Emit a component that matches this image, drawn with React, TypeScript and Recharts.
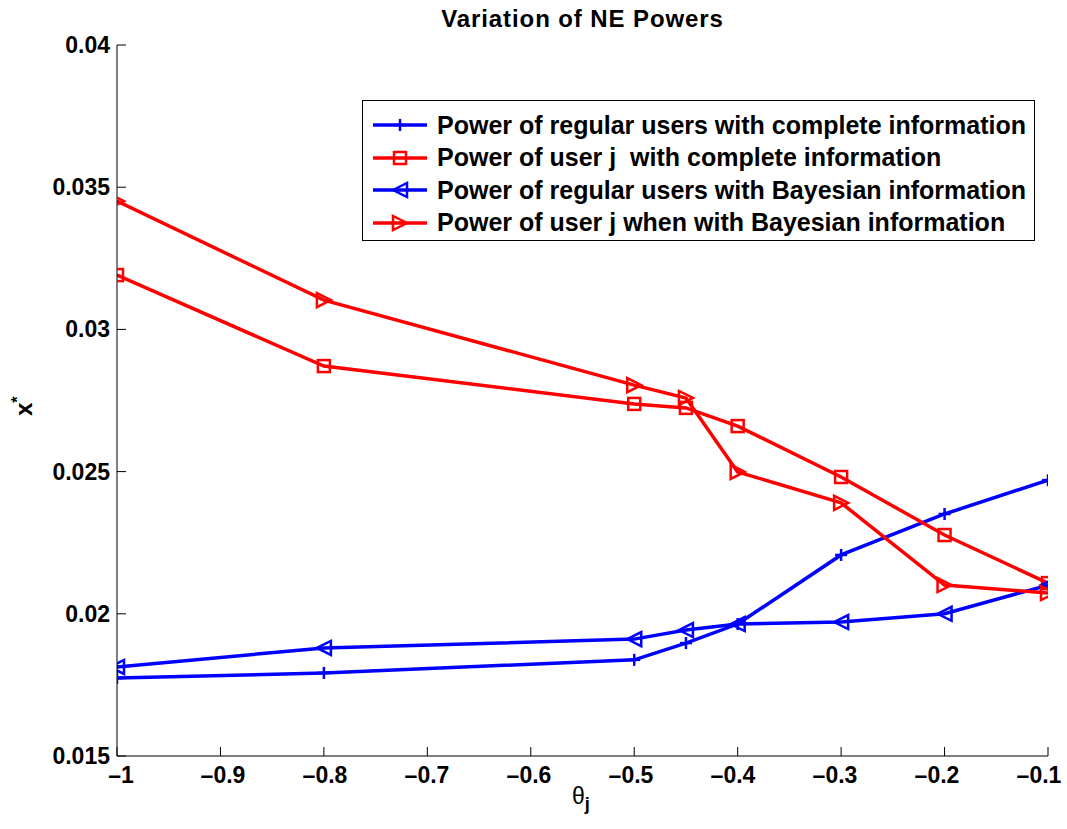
import React from 'react'
import { LineChart, Line, XAxis, YAxis } from 'recharts'

// theta_j values on the x axis
const thetas = [-1, -0.8, -0.5, -0.45, -0.4, -0.3, -0.2, -0.1]

const regularComplete = [0.01774, 0.01792, 0.01838, 0.01897, 0.01964, 0.02207, 0.02351, 0.0247]
const userJComplete = [0.03191, 0.02871, 0.02738, 0.02724, 0.0266, 0.02481, 0.02277, 0.02108]
const regularBayesian = [0.01813, 0.0188, 0.01911, 0.01943, 0.01964, 0.01971, 0.02, 0.02101]
const userJBayesian = [0.03451, 0.03103, 0.02804, 0.02759, 0.02499, 0.0239, 0.02101, 0.02073]

const xTicks = [-1, -0.9, -0.8, -0.7, -0.6, -0.5, -0.4, -0.3, -0.2, -0.1]
const yTicks = [0.015, 0.02, 0.025, 0.03, 0.035, 0.04]

const BLUE = '#0000ff'
const RED = '#ff0000'
const FONT = '"Liberation Sans", Arial, Helvetica, sans-serif'

type Marker = 'plus' | 'square' | 'left' | 'right'

const series: { key: string; name: string; color: string; marker: Marker }[] = [
  { key: 'rc', name: 'Power of regular users with complete information', color: BLUE, marker: 'plus' },
  { key: 'jc', name: 'Power of user j  with complete information', color: RED, marker: 'square' },
  { key: 'rb', name: 'Power of regular users with Bayesian information', color: BLUE, marker: 'left' },
  { key: 'jb', name: 'Power of user j when with Bayesian information', color: RED, marker: 'right' },
]

const data = thetas.map((x, i) => ({
  x,
  rc: regularComplete[i],
  jc: userJComplete[i],
  rb: regularBayesian[i],
  jb: userJBayesian[i],
}))

function markerShape(kind: Marker, cx: number, cy: number, color: string, key?: string | number) {
  const common = { stroke: color, strokeWidth: 2.5, fill: 'none' }
  if (kind === 'plus') {
    return (
      <g key={key}>
        <line x1={cx - 6} y1={cy} x2={cx + 6} y2={cy} {...common} />
        <line x1={cx} y1={cy - 6} x2={cx} y2={cy + 6} {...common} />
      </g>
    )
  }
  if (kind === 'square') {
    return <rect key={key} x={cx - 6} y={cy - 6} width={12} height={12} {...common} />
  }
  if (kind === 'left') {
    return <polygon key={key} points={`${cx - 7},${cy} ${cx + 7},${cy - 7} ${cx + 7},${cy + 7}`} {...common} />
  }
  return <polygon key={key} points={`${cx + 7},${cy} ${cx - 7},${cy - 7} ${cx - 7},${cy + 7}`} {...common} />
}

const fmt = (v: number) => (v < 0 ? '\u2013' + String(Math.abs(v)) : String(v))

const BottomTick = (props: any) => {
  const { x, y, payload, index } = props
  // the labels in the source sit slightly inside of their ticks towards the right end
  const shift = 4 - (13 * (index ?? 0)) / 9
  return (
    <g>
      <line x1={x} y1={y} x2={x} y2={y - 9} stroke="#000" strokeWidth={1} />
      <text x={x + shift} y={y + 27} textAnchor="middle" fontSize={23} fontWeight="bold" fontFamily={FONT} fill="#000">
        {fmt(payload.value)}
      </text>
    </g>
  )
}

const LeftTick = (props: any) => {
  const { x, y, payload } = props
  return (
    <g>
      <line x1={x} y1={y} x2={x + 9} y2={y} stroke="#000" strokeWidth={1} />
      <text x={x - 7} y={y + 8} textAnchor="end" fontSize={23} fontWeight="bold" fontFamily={FONT} fill="#000">
        {String(payload.value)}
      </text>
    </g>
  )
}

const TopTick = (props: any) => {
  const { x, y } = props
  return <line x1={x} y1={y} x2={x} y2={y + 9} stroke="#000" strokeWidth={1} />
}

const RightTick = (props: any) => {
  const { x, y } = props
  return <line x1={x} y1={y} x2={x - 9} y2={y} stroke="#000" strokeWidth={1} />
}

export default function App() {
  return (
    <div style={{ position: 'absolute', left: 0, top: 0, width: 1067, height: 829, background: '#fff', fontFamily: FONT }}>
      <LineChart width={1067} height={829} data={data} margin={{ top: 45, right: 19, bottom: 0, left: 0 }}>
        <XAxis
          dataKey="x"
          type="number"
          domain={[-1, -0.1]}
          ticks={xTicks}
          height={73}
          tickSize={0}
          tickMargin={0}
          tick={BottomTick}
          stroke="#000"
          allowDataOverflow
        />
        <XAxis
          xAxisId="top"
          orientation="top"
          dataKey="x"
          type="number"
          domain={[-1, -0.1]}
          ticks={xTicks}
          height={0}
          tickSize={0}
          tickMargin={0}
          tick={TopTick}
          stroke="#000"
          allowDataOverflow
        />
        <YAxis
          type="number"
          domain={[0.015, 0.04]}
          ticks={yTicks}
          width={117}
          tickSize={0}
          tickMargin={0}
          tick={LeftTick}
          stroke="#000"
          allowDataOverflow
        />
        <YAxis
          yAxisId="right"
          orientation="right"
          type="number"
          domain={[0.015, 0.04]}
          ticks={yTicks}
          width={0}
          tickSize={0}
          tickMargin={0}
          tick={RightTick}
          stroke="#000"
          allowDataOverflow
        />
        {series.map((s) => (
          <Line
            key={s.key}
            dataKey={s.key}
            name={s.name}
            type="linear"
            stroke={s.color}
            strokeWidth={3.5}
            isAnimationActive={false}
            activeDot={false}
            dot={(p: any) => markerShape(s.marker, p.cx, p.cy, s.color, `${s.key}-${p.index}`)}
          />
        ))}
      </LineChart>

      {/* title */}
      <div
        style={{
          position: 'absolute', left: 117, width: 931, top: 4, textAlign: 'center',
          fontSize: 24, fontWeight: 'bold', color: '#000', letterSpacing: 0.9, lineHeight: '30px',
        }}
      >
        Variation of NE Powers
      </div>

      {/* y label x* */}
      <div
        style={{
          position: 'absolute', left: -2, top: 381, width: 40, height: 30,
          transform: 'rotate(-90deg)', fontSize: 24, fontWeight: 'bold', color: '#000', lineHeight: '30px',
        }}
      >
        x<sup style={{ fontSize: 16 }}>*</sup>
      </div>

      {/* x label theta_j */}
      <div style={{ position: 'absolute', left: 572, top: 783, fontSize: 23, color: '#000' }}>
        θ<sub style={{ fontSize: 18, fontWeight: 'bold' }}>j</sub>
      </div>

      {/* legend */}
      <div
        style={{
          position: 'absolute', left: 362, top: 100, width: 673, height: 141,
          border: '1px solid #000', background: '#fff', boxSizing: 'border-box', padding: '8px 0 0 9px',
        }}
      >
        {series.map((s) => (
          <div key={s.key} style={{ display: 'flex', alignItems: 'center', height: 32.5 }}>
            <svg width={56} height={20} style={{ flex: 'none' }}>
              <line x1={1} y1={10} x2={55} y2={10} stroke={s.color} strokeWidth={3.5} />
              {markerShape(s.marker, 28, 10, s.color)}
            </svg>
            <span style={{ marginLeft: 9, fontSize: 25, fontWeight: 'bold', color: '#000', whiteSpace: 'pre' }}>{s.name}</span>
          </div>
        ))}
      </div>
    </div>
  )
}
